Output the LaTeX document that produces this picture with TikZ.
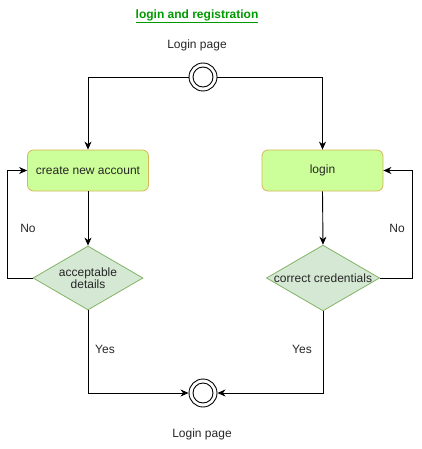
\documentclass[tikz,border=0pt]{standalone}
\usepackage{fontspec}
\setmainfont{Liberation Sans}
\usetikzlibrary{arrows.meta,shapes.geometric}
\definecolor{boxfill}{HTML}{CCFF99}
\definecolor{boxdraw}{HTML}{D6B656}
\definecolor{dfill}{HTML}{D5E8D4}
\definecolor{ddraw}{HTML}{82B366}
\definecolor{titlegreen}{HTML}{009900}
\tikzset{
  every node/.style={font=\fontsize{12}{14}\selectfont, text=black!85},
  stepbox/.style={draw=boxdraw, fill=boxfill, rounded corners=6pt, minimum width=121pt, minimum height=41pt, line width=0.8pt, inner sep=0pt},
  decision/.style={diamond, aspect=1.72, draw=ddraw, fill=dfill, line width=0.8pt, inner sep=0pt, minimum width=110pt, minimum height=64pt, align=center},
  statec/.style={circle, draw, line width=0.9pt, minimum size=28pt, inner sep=0pt},
  statei/.style={circle, draw, line width=0.9pt, minimum size=20pt, inner sep=0pt},
  conn/.style={line width=0.9pt, -{Stealth[length=8pt,width=7pt,inset=2.5pt]}},
  plain/.style={line width=0.9pt},
  lbl/.style={inner sep=0pt}
}
\begin{document}
\begin{tikzpicture}[x=1pt,y=-1pt]
\useasboundingbox (0,0) rectangle (421,449);
\node[lbl, text=titlegreen, font=\fontsize{12}{14}\selectfont\bfseries] (title) at (197,16) {\underline{login and registration}};
\node[lbl] (toplbl) at (197,45) {Login page};
\node[statec] (top) at (203,77) {};
\node[statei] (topi) at (203,77) {};
\node[stepbox] (create) at (88,170.5) {create new account};
\node[stepbox] (login) at (322.5,170.5) {login};
\node[decision] (acc) at (88,278) {acceptable\\[-2pt]details};
\node[decision] (cred) at (323,278) {correct credentials};
\node[statec] (bot) at (203,393) {};
\node[statei] (boti) at (203,393) {};
\node[lbl] (botlbl) at (202,434) {Login page};

\coordinate (tl) at (88,77);
\coordinate (tr) at (322.5,77);
\draw[conn] (top.west) -- (tl) -- (create.north);
\draw[conn] (top.east) -- (tr) -- (login.north);
\draw[conn] (create.south) -- (acc.north);
\draw[conn] (login.south) -- (cred.north);

\coordinate (nl1) at (7,278);
\coordinate (nl2) at (7,170.5);
\draw[conn] (acc.west) -- (nl1) -- (nl2) -- (create.west);
\coordinate (nr1) at (412,278);
\coordinate (nr2) at (412,170.5);
\draw[conn] (cred.east) -- (nr1) -- (nr2) -- (login.east);

\coordinate (yl) at (88,393);
\coordinate (yr) at (323,393);
\draw[conn] (acc.south) -- (yl) -- (bot.west);
\draw[conn] (cred.south) -- (yr) -- (bot.east);

\node[lbl] (no1) at (28,228) {No};
\node[lbl] (no2) at (397,228) {No};
\node[lbl] (yes1) at (105,349) {Yes};
\node[lbl] (yes2) at (302,349) {Yes};
\end{tikzpicture}
\end{document}
